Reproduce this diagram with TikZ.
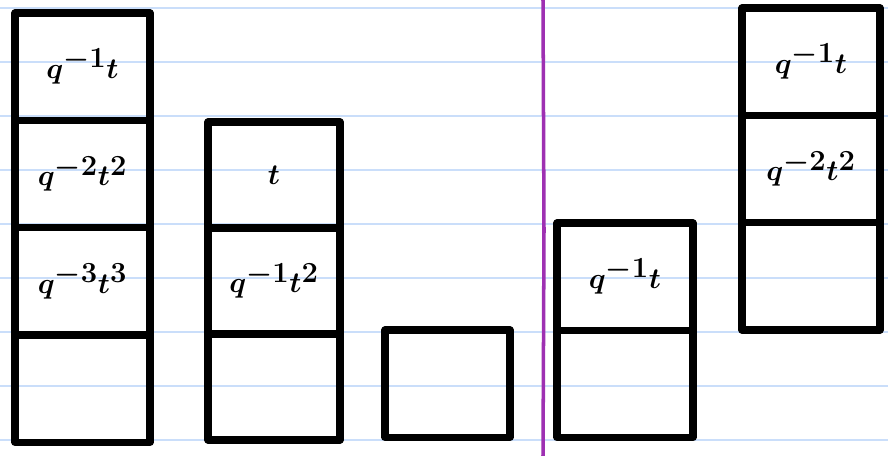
\documentclass[tikz,border=0pt]{standalone}
\usepackage{amsmath}
\usetikzlibrary{positioning}

\definecolor{ruleblue}{RGB}{202,222,250}
\definecolor{marginpurple}{RGB}{158,48,178}

\tikzset{
  cell/.style={draw=black,line width=6pt,line join=round,inner sep=0pt,outer sep=0pt,
    minimum height=3.22cm,font=\fontsize{40}{42}\selectfont\boldmath},
}

\begin{document}
\begin{tikzpicture}[x=0.03cm,y=-0.03cm]
      \fill[white] (0,0) rectangle (888,456);
      \useasboundingbox (0,0) rectangle (888,456);
      % ruled paper
      \foreach \y in {8,62,...,440}
        \draw[ruleblue,line width=1.4pt] (0,\y) -- (888,\y);
      \draw[marginpurple,line width=3pt] (543,0) -- (544,230) -- (543,456);
      % first column
      \node[cell,minimum width=4.05cm,anchor=north] (a1) at (82.5,13) {$q^{-1}t$};
      \node[cell,minimum width=4.05cm,below=0pt of a1] (a2) {$q^{-2}t^{2}$};
      \node[cell,minimum width=4.05cm,below=0pt of a2] (a3) {$q^{-3}t^{3}$};
      \node[cell,minimum width=4.05cm,below=0pt of a3] (a4) {};
      % second column
      \node[cell,minimum width=3.96cm,minimum height=3.18cm,anchor=north] (b1) at (274,122) {$t$};
      \node[cell,minimum width=3.96cm,minimum height=3.18cm,below=0pt of b1] (b2) {$q^{-1}t^{2}$};
      \node[cell,minimum width=3.96cm,minimum height=3.18cm,below=0pt of b2] (b3) {};
      % third column
      \node[cell,minimum width=3.75cm,anchor=north] (c1) at (447.5,330) {};
      % right of the line
      \node[cell,minimum width=4.08cm,anchor=north] (d1) at (625,223) {$q^{-1}t$};
      \node[cell,minimum width=4.08cm,below=0pt of d1] (d2) {};
      \node[cell,minimum width=4.14cm,anchor=north] (e1) at (811,8) {$q^{-1}t$};
      \node[cell,minimum width=4.14cm,below=0pt of e1] (e2) {$q^{-2}t^{2}$};
      \node[cell,minimum width=4.14cm,below=0pt of e2] (e3) {};
\end{tikzpicture}
\end{document}
